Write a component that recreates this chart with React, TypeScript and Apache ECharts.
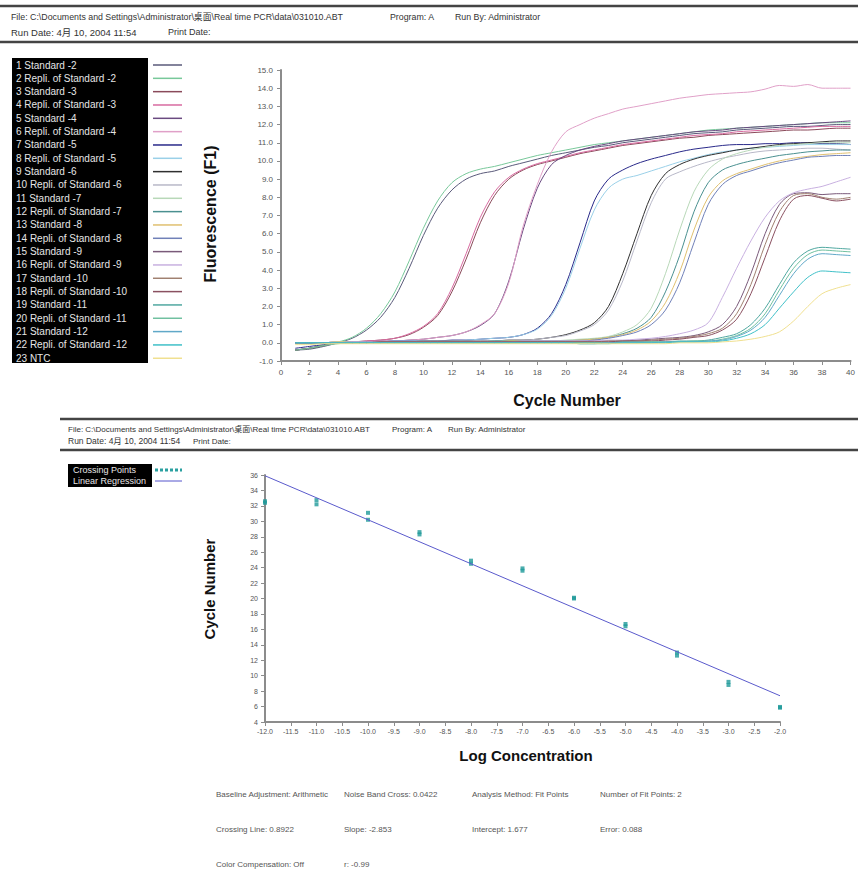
import React, { useEffect, useRef } from "react";
import * as echarts from "echarts";

const FONT = '"Liberation Sans", Arial, "Noto Sans CJK SC", sans-serif';

// ---- Amplification curves (cycle 1..40) ----
const CYCLES = [1,2,3,4,5,6,7,8,9,10,11,12,13,14,15,16,17,18,19,20,21,22,23,24,25,26,27,28,29,30,31,32,33,34,35,36,37,38,39,40];

const STD2 = [-0.4,-0.35,-0.2,0.0,0.25,0.7,1.4,2.5,4.1,5.9, 7.4,8.4,9.0,9.3,9.45,9.7,9.9,10.1,10.3,10.45, 10.6,10.75,10.85,11.0,11.1,11.2,11.3,11.4,11.5,11.55, 11.6,11.7,11.75,11.8,11.85,11.9,11.9,11.95,12.0,12.0];
const STD2_R = [-0.05,-0.05,0.0,0.05,0.3,0.8,1.6,2.8,4.5,6.3, 7.8,8.8,9.3,9.55,9.7,9.9,10.1,10.3,10.45,10.6, 10.75,10.9,11.0,11.1,11.2,11.3,11.4,11.5,11.6,11.7, 11.75,11.8,11.85,11.9,11.95,12.0,12.05,12.1,12.1,12.1];
const STD3 = [-0.4,-0.3,-0.15,0.0,0.05,0.1,0.15,0.25,0.45,0.85, 1.5,2.8,4.6,6.6,8.1,9.0,9.5,9.8,10.0,10.2, 10.4,10.55,10.7,10.85,10.95,11.05,11.15,11.25,11.3,11.4, 11.45,11.5,11.55,11.6,11.65,11.7,11.7,11.75,11.8,11.8];
const STD3_R = [0.0,0.0,0.0,0.05,0.05,0.1,0.15,0.25,0.5,0.9, 1.6,3.0,4.9,6.9,8.3,9.1,9.55,9.85,10.05,10.25, 10.45,10.6,10.75,10.9,11.0,11.1,11.2,11.3,11.4,11.45, 11.5,11.6,11.65,11.7,11.75,11.8,11.85,11.9,11.9,11.9];
const STD4 = [0.0,0.0,0.0,0.05,0.05,0.05,0.1,0.1,0.15,0.2, 0.3,0.4,0.6,0.95,1.6,3.4,6.2,8.5,9.8,10.3, 10.6,10.8,10.95,11.1,11.2,11.3,11.4,11.5,11.6,11.65, 11.7,11.8,11.85,11.9,11.95,12.0,12.05,12.1,12.15,12.2];
const STD4_R = [0.0,0.0,0.0,0.05,0.05,0.05,0.1,0.1,0.15,0.2, 0.3,0.4,0.6,1.0,1.6,3.3,6.4,8.7,10.5,11.6, 12.0,12.35,12.6,12.85,13.0,13.15,13.3,13.45,13.55,13.65, 13.7,13.75,13.8,13.95,14.15,14.1,14.2,14.0,14.0,14.0];
const STD5 = [-0.3,-0.2,-0.1,0.0,0.05,0.05,0.05,0.1,0.1,0.1, 0.1,0.15,0.15,0.2,0.25,0.3,0.45,0.8,1.6,3.2, 5.5,7.8,9.0,9.5,9.85,10.1,10.3,10.5,10.65,10.75, 10.85,10.9,10.9,10.95,10.95,11.0,11.0,10.95,10.95,10.9];
const STD5_R = [0.0,0.0,0.0,0.05,0.05,0.05,0.05,0.1,0.1,0.1, 0.1,0.1,0.15,0.2,0.25,0.3,0.45,0.75,1.5,3.0, 5.2,7.3,8.5,9.0,9.2,9.45,9.7,9.95,10.15,10.35, 10.5,10.6,10.7,10.75,10.8,10.85,10.9,10.9,10.9,10.9];
const STD6 = [-0.4,-0.3,-0.15,0.0,0.05,0.05,0.05,0.05,0.05,0.1, 0.1,0.1,0.1,0.1,0.1,0.15,0.15,0.2,0.3,0.45, 0.7,1.1,2.0,3.8,6.0,8.1,9.3,9.8,10.1,10.3, 10.45,10.6,10.7,10.8,10.9,10.95,11.0,11.05,11.1,11.1];
const STD6_R = [0.0,0.0,0.0,0.05,0.05,0.05,0.05,0.05,0.05,0.1, 0.1,0.1,0.1,0.1,0.1,0.15,0.15,0.2,0.3,0.4, 0.65,1.0,1.8,3.4,5.6,7.7,9.0,9.4,9.7,9.95, 10.15,10.3,10.45,10.55,10.6,10.65,10.7,10.7,10.65,10.6];
const STD7 = [0.0,0.0,0.0,0.05,0.05,0.05,0.05,0.05,0.05,0.05, 0.05,0.05,0.05,0.05,0.1,0.1,0.1,0.1,0.1,0.15, 0.2,0.25,0.35,0.6,1.0,1.9,3.8,6.2,8.3,9.5, 10.1,10.4,10.6,10.75,10.85,10.9,10.95,11.0,11.0,11.0];
const STD7_R = [-0.4,-0.3,-0.15,0.0,0.0,0.05,0.05,0.05,0.05,0.05, 0.05,0.05,0.05,0.05,0.1,0.1,0.1,0.1,0.1,0.1, 0.15,0.2,0.3,0.5,0.8,1.4,2.8,4.8,7.2,8.8, 9.5,9.8,10.0,10.15,10.3,10.4,10.5,10.55,10.6,10.6];
const STD8 = [0.0,0.0,0.0,0.05,0.05,0.05,0.05,0.05,0.05,0.05, 0.05,0.05,0.05,0.05,0.05,0.1,0.1,0.1,0.1,0.1, 0.15,0.2,0.3,0.45,0.7,1.2,2.2,3.9,6.2,8.0, 8.9,9.3,9.55,9.8,10.0,10.15,10.25,10.35,10.4,10.45];
const STD8_R = [0.0,0.0,0.0,0.0,0.05,0.05,0.05,0.05,0.05,0.05, 0.05,0.05,0.05,0.05,0.05,0.05,0.1,0.1,0.1,0.1, 0.1,0.15,0.25,0.4,0.6,1.0,1.8,3.3,5.5,7.6, 8.7,9.2,9.45,9.7,9.9,10.05,10.2,10.25,10.3,10.3];
const STD9 = [0.0,0.0,0.0,0.0,0.0,0.05,0.05,0.05,0.05,0.05, 0.05,0.05,0.05,0.05,0.05,0.05,0.05,0.05,0.05,0.05, 0.05,0.1,0.1,0.1,0.15,0.2,0.25,0.3,0.4,0.6, 1.0,2.0,3.8,6.0,7.6,8.2,8.25,8.15,8.2,8.2];
const STD9_R = [0.0,0.0,0.0,0.0,0.05,0.05,0.05,0.05,0.05,0.05, 0.05,0.05,0.05,0.05,0.05,0.05,0.1,0.1,0.1,0.1, 0.1,0.1,0.15,0.15,0.2,0.25,0.35,0.5,0.7,1.1, 2.5,4.1,5.6,6.9,7.8,8.25,8.45,8.6,8.85,9.1];
const STD10 = [-0.4,-0.3,-0.15,0.0,0.0,0.0,0.05,0.05,0.05,0.05, 0.05,0.05,0.05,0.05,0.05,0.05,0.05,0.05,0.05,0.05, 0.05,0.05,0.1,0.1,0.1,0.15,0.2,0.25,0.35,0.5, 0.8,1.6,3.2,5.4,7.2,8.1,8.2,8.0,7.9,8.0];
const STD10_R = [0.0,0.0,0.0,0.0,0.0,0.0,0.05,0.05,0.05,0.05, 0.05,0.05,0.05,0.05,0.05,0.05,0.05,0.05,0.05,0.05, 0.05,0.05,0.05,0.1,0.1,0.1,0.15,0.2,0.3,0.4, 0.7,1.3,2.7,4.7,6.7,7.9,8.1,7.95,7.8,7.9];
const STD11 = [0.0,0.0,0.0,0.0,0.0,0.0,0.0,0.0,0.0,0.0, 0.0,0.0,0.0,0.0,0.0,0.0,0.0,0.0,0.0,0.0, 0.0,0.0,0.0,0.05,0.05,0.05,0.05,0.1,0.1,0.15, 0.3,0.5,1.0,1.9,3.2,4.4,5.05,5.25,5.2,5.15];
const STD11_R = [-0.4,-0.3,-0.15,-0.05,0.0,0.0,0.0,0.0,0.0,0.0, 0.0,0.0,0.0,0.0,0.0,0.0,0.0,0.0,0.0,0.0, 0.0,0.0,0.0,0.0,0.0,0.05,0.05,0.05,0.1,0.1, 0.2,0.4,0.8,1.6,2.9,4.1,4.85,5.1,5.05,5.0];
const STD12 = [0.0,0.0,0.0,0.0,0.0,0.0,0.0,0.0,0.0,0.0, 0.0,0.0,0.0,0.0,0.0,0.0,0.0,0.0,0.0,0.0, -0.05,-0.05,0.0,0.0,0.0,0.0,0.05,0.05,0.05,0.1, 0.15,0.35,0.7,1.4,2.6,3.8,4.6,4.9,4.85,4.8];
const STD12_R = [0.0,0.0,0.0,0.0,0.0,0.0,0.0,0.0,0.0,0.0, 0.0,0.0,0.0,0.0,0.0,0.0,0.0,0.0,0.0,0.0, -0.05,-0.05,-0.05,0.0,0.0,0.0,0.0,0.05,0.05,0.05, 0.1,0.25,0.5,1.0,1.9,2.8,3.6,3.95,3.9,3.85];
const NTC = [-0.1,-0.1,-0.05,-0.05,-0.05,-0.05,-0.05,-0.05,-0.05,-0.05, -0.05,-0.05,-0.05,-0.05,-0.05,-0.05,-0.05,-0.05,-0.05,-0.05, -0.05,-0.05,-0.05,-0.05,-0.05,-0.05,-0.05,0.0,0.0,0.0, 0.05,0.1,0.2,0.35,0.6,1.2,2.0,2.7,3.0,3.2];

const SERIES_NAMES = [
  "1 Standard -2", "2 Repli. of Standard -2", "3 Standard -3", "4 Repli. of Standard -3",
  "5 Standard -4", "6 Repli. of Standard -4", "7 Standard -5", "8 Repli. of Standard -5",
  "9 Standard -6", "10 Repli. of Standard -6", "11 Standard -7", "12 Repli. of Standard -7",
  "13 Standard -8", "14 Repli. of Standard -8", "15 Standard -9", "16 Repli. of Standard -9",
  "17 Standard -10", "18 Repli. of Standard -10", "19 Standard -11", "20 Repli. of Standard -11",
  "21 Standard -12", "22 Repli. of Standard -12", "23 NTC",
];
const SERIES_VALUES = [STD2, STD2_R, STD3, STD3_R, STD4, STD4_R, STD5, STD5_R, STD6, STD6_R, STD7, STD7_R, STD8, STD8_R, STD9, STD9_R, STD10, STD10_R, STD11, STD11_R, STD12, STD12_R, NTC];
const SERIES_COLORS = [
  "#5a5a7a", "#78c89a", "#8a4a5a", "#d86aa0", "#6a4a80", "#e0a0c8", "#2a2a8a", "#9ad0e8",
  "#303030", "#b8b8c8", "#b8d8b8", "#4a9090", "#e0c070", "#7080b8", "#7a5a7a", "#c8b0e0",
  "#a08070", "#8a5060", "#50a8a0", "#70c0a0", "#60a8c8", "#40c0c8", "#f0e090",
];

// ---- Standard curve ----
const LOG_CONC = [-12, -12, -11, -11, -10, -10, -9, -9, -8, -8, -7, -7, -6, -6, -5, -5, -4, -4, -3, -3, -2, -2];
const CROSSING_POINTS = [32.6, 32.4, 32.75, 32.2, 31.1, 30.2, 28.6, 28.3, 24.9, 24.5, 23.9, 23.6, 20.1, 20.0, 16.7, 16.4, 13.0, 12.6, 9.2, 8.8, 5.95, 5.85];
const REGRESSION_X = [-12, -2];
const REGRESSION_Y = [35.9, 7.4];

const HEADER_FILE = "File: C:\\Documents and Settings\\Administrator\\桌面\\Real time PCR\\data\\031010.ABT";
const HEADER_PROGRAM = "Program: A";
const HEADER_RUNBY = "Run By: Administrator";
const HEADER_RUNDATE = "Run Date: 4月 10, 2004 11:54";
const HEADER_PRINTDATE = "Print Date:";

const STATS_ROWS = [
  ["Baseline Adjustment: Arithmetic", "Noise Band Cross: 0.0422", "Analysis Method: Fit Points", "Number of Fit Points: 2"],
  ["Crossing Line: 0.8922", "Slope: -2.853", "Intercept: 1.677", "Error: 0.088"],
  ["Color Compensation: Off", "r: -0.99", "", ""],
];

function txt(x: number, y: number, text: string, size: number, fill = "#333", extra: any = {}) {
  return {
    type: "text", x, y, z: 10,
    style: { text, fontSize: size, fontFamily: FONT, fill, verticalAlign: "middle", align: "left", ...extra },
  };
}
function hline(x1: number, x2: number, y: number, w: number, color = "#444") {
  return { type: "line", z: 10, shape: { x1, y1: y, x2, y2: y }, style: { stroke: color, lineWidth: w } };
}

export default function App() {
  const ref = useRef<HTMLDivElement>(null);
  useEffect(() => {
    if (!ref.current) return;
    const chart = echarts.init(ref.current, null, { renderer: "svg" });

    const axisCommon = {
      axisLine: { show: true, onZero: false, lineStyle: { color: "#8c8c8c", width: 2 } },
      axisTick: { show: true, length: 4, lineStyle: { color: "#8c8c8c" } },
      splitLine: { show: false },
    };
    const labelStyle = { fontSize: 8, color: "#555", fontFamily: FONT };

    const lineSeries = SERIES_VALUES.map((vals, i) => ({
      name: SERIES_NAMES[i],
      type: "line",
      xAxisIndex: 0,
      yAxisIndex: 0,
      showSymbol: false,
      smooth: 0.3,
      lineStyle: { width: 1, color: SERIES_COLORS[i] },
      itemStyle: { color: SERIES_COLORS[i] },
      data: CYCLES.map((c, k) => [c, vals[k]]),
    }));

    const graphic: any[] = [];
    // top header
    graphic.push(hline(0, 858, 6, 2.5));
    graphic.push(txt(11, 17, HEADER_FILE, 8.8));
    graphic.push(txt(390, 17, HEADER_PROGRAM, 8.8));
    graphic.push(txt(455, 17, HEADER_RUNBY, 8.8));
    graphic.push(txt(11, 32, HEADER_RUNDATE, 9.5));
    graphic.push(txt(168, 32, HEADER_PRINTDATE, 9));
    graphic.push(hline(0, 858, 42, 2.5));
    // second header
    graphic.push(hline(60, 858, 419, 2.5));
    graphic.push(txt(68, 429, HEADER_FILE, 8));
    graphic.push(txt(392, 429, HEADER_PROGRAM, 8));
    graphic.push(txt(448, 429, HEADER_RUNBY, 8));
    graphic.push(txt(68, 441, HEADER_RUNDATE, 8.5));
    graphic.push(txt(193, 441, HEADER_PRINTDATE, 8));
    graphic.push(hline(60, 858, 450, 2.5));

    // legend 1
    graphic.push({ type: "rect", z: 10, shape: { x: 12, y: 58, width: 136, height: 305 }, style: { fill: "#000" } });
    SERIES_NAMES.forEach((n, i) => {
      const y = 65 + i * 13.33;
      graphic.push(txt(16, y, n, 10, "#e6e6e6"));
      graphic.push({ type: "line", z: 10, shape: { x1: 153, y1: y, x2: 182, y2: y }, style: { stroke: SERIES_COLORS[i], lineWidth: 1.5 } });
    });

    // legend 2
    graphic.push({ type: "rect", z: 10, shape: { x: 68, y: 464, width: 84, height: 23 }, style: { fill: "#000" } });
    graphic.push(txt(73, 470, "Crossing Points", 9, "#e6e6e6"));
    graphic.push(txt(73, 481, "Linear Regression", 9, "#e6e6e6"));
    graphic.push({ type: "line", z: 10, shape: { x1: 155, y1: 470, x2: 182, y2: 470 }, style: { stroke: "#2aa0a0", lineWidth: 3, lineDash: [3, 2] } });
    graphic.push({ type: "line", z: 10, shape: { x1: 155, y1: 481, x2: 182, y2: 481 }, style: { stroke: "#5555cc", lineWidth: 1 } });

    // axis titles
    const titleStyle = { fontSize: 16, fontWeight: "bold", fontFamily: FONT, fill: "#111", align: "center", verticalAlign: "middle" };
    graphic.push({ type: "text", z: 10, x: 210, y: 214, rotation: Math.PI / 2, style: { text: "Fluorescence (F1)", ...titleStyle } });
    graphic.push({ type: "text", z: 10, x: 567, y: 400, style: { text: "Cycle Number", ...titleStyle } });
    graphic.push({ type: "text", z: 10, x: 209, y: 589, rotation: Math.PI / 2, style: { text: "Cycle Number", ...titleStyle, fontSize: 15 } });
    graphic.push({ type: "text", z: 10, x: 526, y: 755, style: { text: "Log Concentration", ...titleStyle, fontSize: 15 } });

    // stats
    const colX = [216, 344, 472, 600];
    const rowY = [794, 829, 864];
    STATS_ROWS.forEach((row, r) => row.forEach((s, c) => { if (s) graphic.push(txt(colX[c], rowY[r], s, 8, "#555")); }));

    chart.setOption({
      animation: false,
      backgroundColor: "#fff",
      grid: [
        { left: 281, top: 70, width: 571, height: 291 },
        { left: 265, top: 475, width: 515, height: 247 },
      ],
      xAxis: [
        { gridIndex: 0, type: "value", min: 0, max: 40, interval: 2, ...axisCommon, axisLabel: { ...labelStyle, margin: 7 } },
        { gridIndex: 1, type: "value", min: -12, max: -2, interval: 0.5, ...axisCommon, axisLabel: { ...labelStyle, fontSize: 7, margin: 6, formatter: (v: number) => v.toFixed(1) } },
      ],
      yAxis: [
        { gridIndex: 0, type: "value", min: -1, max: 15, interval: 1, ...axisCommon, axisLabel: { ...labelStyle, margin: 8, formatter: (v: number) => v.toFixed(1) } },
        { gridIndex: 1, type: "value", min: 4, max: 36, interval: 2, ...axisCommon, axisLabel: { ...labelStyle, fontSize: 7, margin: 7 } },
      ],
      series: [
        ...lineSeries,
        {
          name: "Linear Regression", type: "line", xAxisIndex: 1, yAxisIndex: 1, showSymbol: false,
          lineStyle: { width: 1, color: "#5a5acc" },
          data: REGRESSION_X.map((x, i) => [x, REGRESSION_Y[i]]),
        },
        {
          name: "Crossing Points", type: "scatter", xAxisIndex: 1, yAxisIndex: 1, symbol: "rect", symbolSize: 4,
          itemStyle: { color: "#1f9a9a" },
          data: LOG_CONC.map((x, i) => [x, CROSSING_POINTS[i]]),
        },
      ],
      graphic,
    });
    return () => chart.dispose();
  }, []);
  return <div ref={ref} style={{ position: "absolute", left: 0, top: 0, width: 858, height: 871 }} />;
}
